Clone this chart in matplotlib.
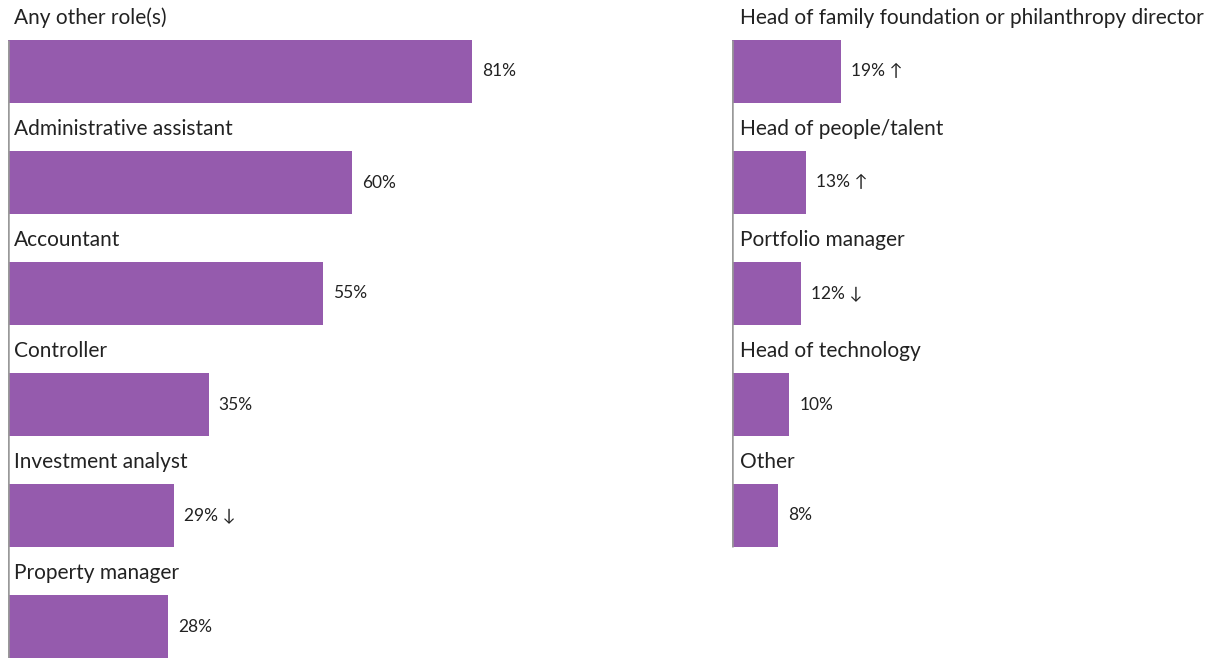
import matplotlib
matplotlib.use("Agg")
import matplotlib.pyplot as plt

plt.rcParams['font.family'] = ['Lato', 'DejaVu Sans']

# left panel
left_roles = ['Any other role(s)', 'Administrative assistant', 'Accountant',
              'Controller', 'Investment analyst', 'Property manager']
left_vals = [81, 60, 55, 35, 29, 28]
left_marks = ['', '', '', '', ' \u2193', '']

# right panel
right_roles = ['Head of family foundation or philanthropy director',
               'Head of people/talent', 'Portfolio manager',
               'Head of technology', 'Other']
right_vals = [19, 13, 12, 10, 8]
right_marks = [' \u2191', ' \u2191', ' \u2193', '', '']

W, H = 1214, 658
PX_PER_PCT = 5.73
ROW = 111.0
bar_color = '#955BAD'

fig = plt.figure(figsize=(W / 100, H / 100), dpi=100)


def panel(x0, width, roles, vals, marks, pad):
    ax = fig.add_axes([x0 / W, 0, width / W, 1])
    ax.set_xlim(0, width / PX_PER_PCT)
    ax.set_ylim(H / ROW, 0)
    ax.axis('off')
    centers = [i + 71.5 / ROW for i in range(len(vals))]
    ax.barh(centers, vals, height=63 / ROW, color=bar_color, linewidth=0)
    for i, (r, v, m) in enumerate(zip(roles, vals, marks)):
        ax.text(pad / PX_PER_PCT, i + 18 / ROW, r, fontsize=15, va='center',
                ha='left', color='#222222')
        ax.text(v + 10 / PX_PER_PCT, centers[i], f'{v}%{m}', fontsize=12.5,
                va='center', ha='left', color='#222222')
    top = 40 / ROW
    bottom = len(vals) - 1 + 103 / ROW
    ax.plot([0, 0], [top, bottom], color='#999999', lw=1.8,
            solid_capstyle='butt', zorder=3)
    return ax


panel(8, 700, left_roles, left_vals, left_marks, 6)
panel(732, 482, right_roles, right_vals, right_marks, 8)

fig.savefig('out.png', dpi=100)
